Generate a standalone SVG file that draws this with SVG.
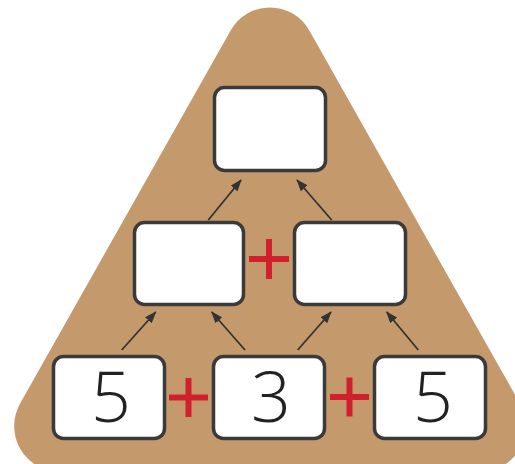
<svg xmlns="http://www.w3.org/2000/svg" width="515" height="464" viewBox="0 0 515 464">
  <style>
    .box { fill: #ffffff; stroke: #3a3a3a; stroke-width: 3.5; }
    .num { font-family: "Open Sans", "DejaVu Sans", sans-serif; font-weight: 300; font-size: 70px; fill: #222222; text-anchor: middle; }
    .plus { fill: #d0202e; }
    .arrow { stroke: #333333; stroke-width: 1.8; fill: none; marker-end: url(#head); }
  </style>
  <defs>
    <marker id="head" markerWidth="12" markerHeight="9" refX="11" refY="4.5" orient="auto" markerUnits="userSpaceOnUse">
      <path d="M0,0 L12,4.5 L0,9 Z" fill="#333333"/>
    </marker>
  </defs>
  <rect width="515" height="464" fill="#ffffff"/>
  <path id="pyramid" d="M 230.8 30.3 A 45 45 0 0 1 309.2 30.3 L 519.9 403.4 A 46 46 0 0 1 479.9 472 L 60.1 472 A 46 46 0 0 1 20.1 403.4 Z" fill="#c49a6c"/>

  <g id="connectors">
    <line class="arrow" x1="208.3" y1="220" x2="241" y2="180"/>
    <line class="arrow" x1="331.7" y1="220" x2="297" y2="180"/>
    <line class="arrow" x1="121.7" y1="350" x2="155.7" y2="312"/>
    <line class="arrow" x1="245" y1="350" x2="211.7" y2="312"/>
    <line class="arrow" x1="297.7" y1="350" x2="331" y2="312"/>
    <line class="arrow" x1="418.3" y1="350" x2="386.7" y2="312"/>
  </g>

  <g id="top">
    <rect class="box" x="214.5" y="87.5" width="111" height="83" rx="10"/>
  </g>
  <g id="midLeft">
    <rect class="box" x="134.5" y="222.5" width="109" height="82" rx="10"/>
  </g>
  <g id="midRight">
    <rect class="box" x="294.5" y="222.5" width="111" height="82" rx="10"/>
  </g>
  <g id="botLeft">
    <rect class="box" x="53.5" y="356.5" width="111" height="82" rx="10"/>
    <text class="num" x="111" y="422">5</text>
  </g>
  <g id="botMid">
    <rect class="box" x="213.5" y="356.5" width="111" height="82" rx="10"/>
    <text class="num" x="271" y="422">3</text>
  </g>
  <g id="botRight">
    <rect class="box" x="374.5" y="356.5" width="111" height="82" rx="10"/>
    <text class="num" x="433" y="422">5</text>
  </g>

  <g id="plus1" class="plus">
    <rect x="249" y="256" width="40" height="6"/>
    <rect x="266" y="239" width="6" height="40"/>
  </g>
  <g id="plus2" class="plus">
    <rect x="169" y="394.5" width="39" height="6"/>
    <rect x="185.5" y="378" width="6" height="39"/>
  </g>
  <g id="plus3" class="plus">
    <rect x="330" y="394" width="39" height="6"/>
    <rect x="346.5" y="377.5" width="6" height="39"/>
  </g>
</svg>
